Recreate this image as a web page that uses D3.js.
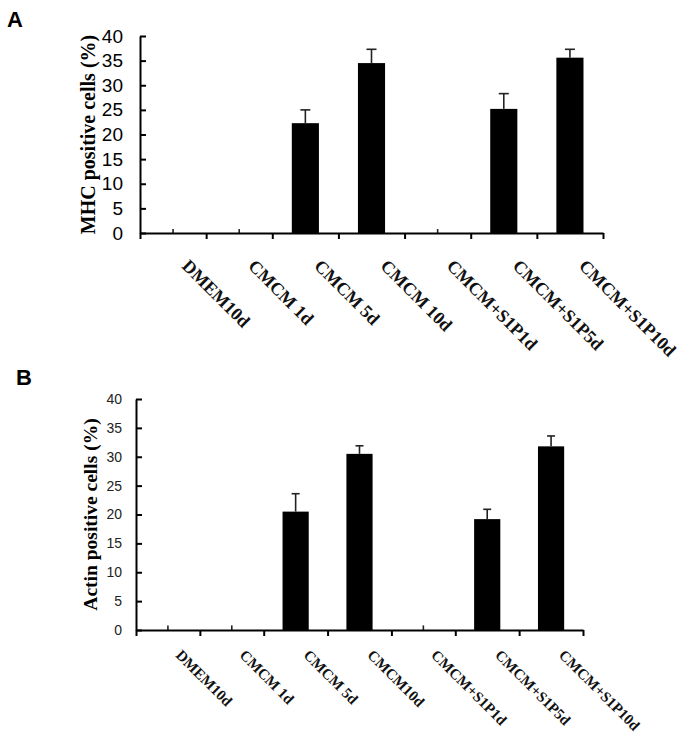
<!DOCTYPE html>
<html>
<head>
<meta charset="utf-8">
<script src="https://cdn.jsdelivr.net/npm/d3@7"></script>
<style>
  body { margin: 0; background: #fff; }
  svg { display: block; }
</style>
</head>
<body>
<div id="chart"></div>
<script>
// panel A - MHC
let groupsA = ["DMEM10d", "CMCM 1d", "CMCM 5d", "CMCM 10d", "CMCM+S1P1d", "CMCM+S1P5d", "CMCM+S1P10d"]
let mhcValues = [0, 0, 22.3, 34.5, 0, 25.2, 35.6]
let mhcErrors = [0.8, 0.8, 2.7, 2.8, 0.8, 3.1, 1.7]

// panel B - Actin
let groupsB = ["DMEM10d", "CMCM 1d", "CMCM 5d", "CMCM10d", "CMCM+S1P1d", "CMCM+S1P5d", "CMCM+S1P10d"]
let actinValues = [0, 0, 20.5, 30.5, 0, 19.2, 31.8]
let actinErrors = [0.8, 0.8, 3.1, 1.4, 0.8, 1.7, 1.8]

let yTicks = [0, 5, 10, 15, 20, 25, 30, 35, 40]

var svg = d3.select("#chart")
    .append("svg")
        .attr("width", 685)
        .attr("height", 734)

function drawPanel(opt) {
    let g = svg.append("g")

    let n = opt.groups.length
    let edgeScale = d3.scaleLinear().domain([0, n]).range([opt.x0, opt.x1])
    let xScale = d3.scaleBand()
        .domain(opt.groups)
        .range([opt.x0, opt.x1])
        .paddingInner(0.59)
        .paddingOuter(0.295)
    let yScale = d3.scaleLinear().domain([0, 40]).range([opt.y0, opt.y1])

    let data = opt.groups.map((d, i) => ({name: d, value: opt.values[i], err: opt.errors[i]}))

    // bars
    g.selectAll("rect.bar")
        .data(data.filter(d => d.value > 0))
        .enter()
        .append("rect")
            .attr("class", "bar")
            .attr("x", d => xScale(d.name))
            .attr("y", d => yScale(d.value))
            .attr("width", xScale.bandwidth())
            .attr("height", d => yScale(0) - yScale(d.value))
            .attr("fill", "#000")

    // error bars
    let cx = d => xScale(d.name) + xScale.bandwidth() / 2
    g.selectAll("line.err")
        .data(data)
        .enter()
        .append("line")
            .attr("x1", cx)
            .attr("x2", cx)
            .attr("y1", d => yScale(d.value))
            .attr("y2", d => yScale(d.value + d.err))
            .attr("stroke", "#222")
            .attr("stroke-width", 1.6)
    g.selectAll("line.cap")
        .data(data.filter(d => d.value > 0))
        .enter()
        .append("line")
            .attr("x1", d => cx(d) - opt.cap / 2)
            .attr("x2", d => cx(d) + opt.cap / 2)
            .attr("y1", d => yScale(d.value + d.err))
            .attr("y2", d => yScale(d.value + d.err))
            .attr("stroke", "#222")
            .attr("stroke-width", 1.6)

    // y axis
    let yAxis = g.append("g")
        .attr("transform", `translate(${opt.x0},0)`)
        .call(d3.axisLeft(yScale).tickValues(yTicks).tickSize(-6).tickSizeOuter(0).tickPadding(opt.tickPad))
    yAxis.selectAll("path, line").attr("stroke", "#000").attr("stroke-width", 2)
    yAxis.selectAll("text")
        .attr("font-family", "'Liberation Sans', Arial, sans-serif")
        .attr("font-size", opt.tickFont)
        .attr("fill", opt.tickColor)

    // x axis (ticks at group edges)
    let xAxis = g.append("g")
        .attr("transform", `translate(0,${opt.y0})`)
        .call(d3.axisBottom(edgeScale).tickValues(d3.range(n + 1)).tickFormat("").tickSize(6).tickSizeOuter(0))
    xAxis.selectAll("path, line").attr("stroke", "#000").attr("stroke-width", 2)

    // rotated category labels
    g.selectAll("text.cat")
        .data(data)
        .enter()
        .append("text")
            .attr("class", "cat")
            .attr("transform", d => `translate(${cx(d) + opt.labDx},${opt.y0 + opt.labDy}) rotate(45)`)
            .attr("font-family", "'Liberation Serif', 'Times New Roman', serif")
            .attr("font-weight", "bold")
            .attr("font-size", opt.labFont)
            .attr("fill", "#111")
            .text(d => d.name)

    // y title
    g.append("text")
        .attr("transform", `translate(${opt.titleX},${(opt.y0 + opt.y1) / 2}) rotate(-90)`)
        .attr("text-anchor", "middle")
        .attr("font-family", "'Liberation Serif', 'Times New Roman', serif")
        .attr("font-weight", "bold")
        .attr("font-size", opt.titleFont)
        .text(opt.title)

    // panel letter
    g.append("text")
        .attr("x", opt.letterX)
        .attr("y", opt.letterY)
        .attr("font-family", "'Liberation Sans', Arial, sans-serif")
        .attr("font-weight", "bold")
        .attr("font-size", 22)
        .text(opt.letter)
}

drawPanel({
    groups: groupsA, values: mhcValues, errors: mhcErrors,
    x0: 140, x1: 603, y0: 233, y1: 36,
    cap: 10, tickPad: 17, tickFont: 19, tickColor: "#000",
    labDx: 8, labDy: 34, labFont: 18,
    title: "MHC positive cells (%)", titleX: 95, titleFont: 20,
    letter: "A", letterX: 7, letterY: 27
})

drawPanel({
    groups: groupsB, values: actinValues, errors: actinErrors,
    x0: 136, x1: 583, y0: 630, y1: 399,
    cap: 8, tickPad: 14, tickFont: 14, tickColor: "#222",
    labDx: 7, labDy: 26, labFont: 15,
    title: "Actin positive cells (%)", titleX: 97, titleFont: 19.5,
    letter: "B", letterX: 16, letterY: 385
})
</script>
</body>
</html>
